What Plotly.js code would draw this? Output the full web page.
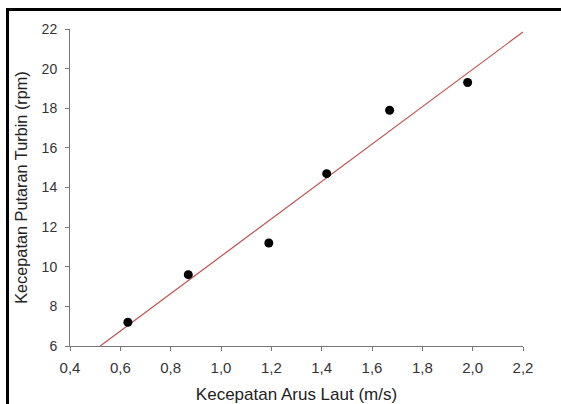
<!DOCTYPE html>
<html>
<head>
<meta charset="utf-8">
<script src="https://cdn.plot.ly/plotly-3.0.1.min.js"></script>
<style>
  html, body { margin: 0; padding: 0; background: #fff; }
  #wrap { position: relative; width: 561px; height: 404px; overflow: hidden; background: #fff; }
  #frame { position: absolute; left: 6px; top: 8px; width: 600px; height: 450px; border-left: 3px solid #000; border-top: 3px solid #000; pointer-events: none; z-index: 5; }
  #chart { position: absolute; left: 0; top: 0; width: 561px; height: 404px; }
</style>
</head>
<body>
<div id="wrap">
  <div id="chart"></div>
  <div id="frame"></div>
</div>
<script>
// Measured data points
const arusLaut = [0.63, 0.87, 1.19, 1.42, 1.67, 1.98];        // m/s
const putaranTurbin = [7.2, 9.6, 11.2, 14.7, 17.9, 19.3];     // rpm

// Trend line endpoints
const trendX = [0.52, 2.2];
const trendY = [6.0, 21.85];

// Tick values
const xTicks = [0.4, 0.6, 0.8, 1.0, 1.2, 1.4, 1.6, 1.8, 2.0, 2.2];
const yTicks = [6, 8, 10, 12, 14, 16, 18, 20, 22];

const font = 'Liberation Sans, Arial, sans-serif';

const traces = [
  {
    x: trendX, y: trendY, mode: 'lines', type: 'scatter',
    line: { color: '#c0504d', width: 1.2 },
    hoverinfo: 'skip', showlegend: false
  },
  {
    x: arusLaut, y: putaranTurbin, mode: 'markers', type: 'scatter',
    marker: { color: '#000', size: 9 },
    showlegend: false
  }
];

const layout = {
  width: 561, height: 404,
  margin: { l: 70, r: 38, t: 29, b: 58 },
  paper_bgcolor: '#fff', plot_bgcolor: '#fff',
  separators: ', ',
  font: { family: font, color: '#333', size: 14 },
  xaxis: {
    range: [0.4, 2.2], tickvals: xTicks, tickformat: '.1f',
    showgrid: false, zeroline: false,
    showline: true, linecolor: '#777', linewidth: 1,
    ticks: 'outside', ticklen: 4, tickcolor: '#777',
    ticklabelstandoff: 4,
    tickfont: { size: 15, color: '#333' },
    title: { text: 'Kecepatan Arus Laut (m/s)', font: { size: 17, color: '#222' }, standoff: 13 },
    automargin: false
  },
  yaxis: {
    range: [6, 22], tickvals: yTicks,
    showgrid: false, zeroline: false,
    showline: true, linecolor: '#777', linewidth: 1,
    ticks: 'outside', ticklen: 4, tickcolor: '#777',
    ticklabelstandoff: 5,
    tickfont: { size: 14, color: '#333' },
    title: { text: 'Kecepatan Putaran Turbin (rpm)', font: { size: 16.3, color: '#222' }, standoff: 9 },
    automargin: false
  }
};

Plotly.newPlot('chart', traces, layout, { displayModeBar: false, staticPlot: true });
</script>
</body>
</html>
